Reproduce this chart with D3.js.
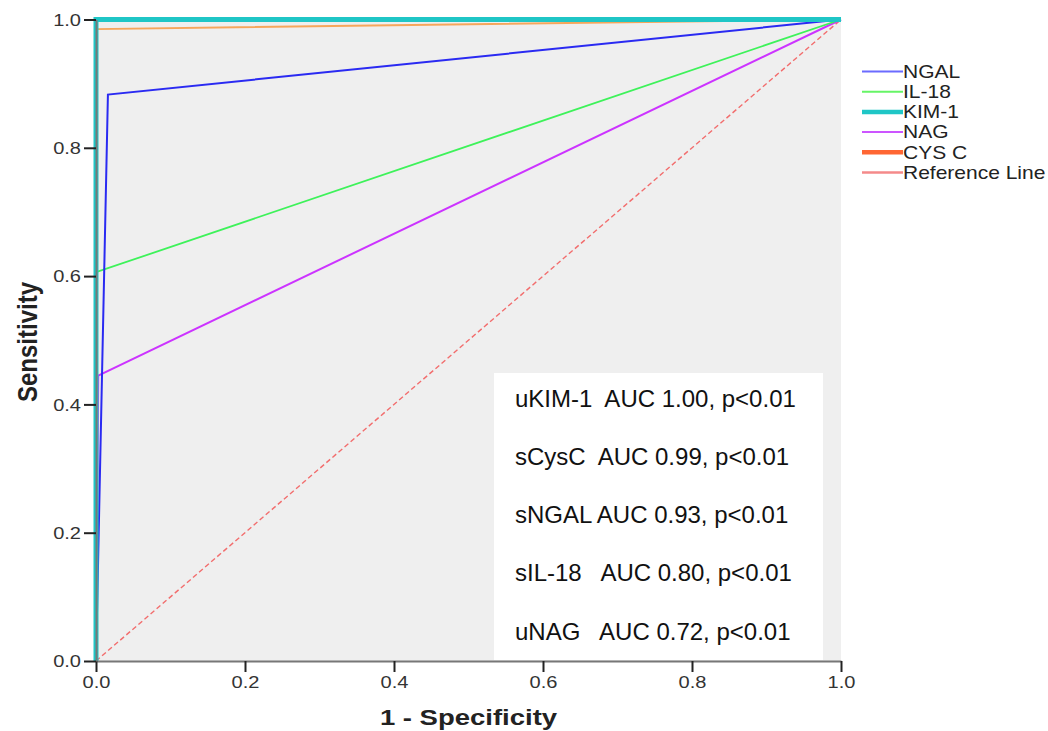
<!DOCTYPE html>
<html>
<head>
<meta charset="utf-8">
<script src="https://cdn.jsdelivr.net/npm/d3@7"></script>
<style>
  body { margin: 0; background: #fff; }
  svg { font-family: Arial, "Liberation Sans", sans-serif; }
</style>
</head>
<body>
<svg id="chart" width="1048" height="731"></svg>
<script>
// ROC curves: [1 - specificity, sensitivity]
const ngal = [[0, 0], [0.016, 0.883], [1, 1]];
const il18 = [[0, 0], [0, 0.606], [1, 1]];
const kim1 = [[0, 0], [0, 1], [1, 1]];
const nag = [[0, 0], [0.003, 0.445], [1, 1]];
const cysc = [[0, 0], [0, 0.985], [1, 1]];
const refLine = [[0, 0], [1, 1]];

const tickValues = [0, 0.2, 0.4, 0.6, 0.8, 1.0];
const aucLabels = [
  "uKIM-1  AUC 1.00, p<0.01",
  "sCysC  AUC 0.99, p<0.01",
  "sNGAL AUC 0.93, p<0.01",
  "sIL-18   AUC 0.80, p<0.01",
  "uNAG   AUC 0.72, p<0.01"
];

// 凡例の名前と線の見た目
const legendNames = ["NGAL", "IL-18", "KIM-1", "NAG", "CYS C", "Reference Line"];
const legendColors = ["#6b6bff", "#66f566", "#1fc6c6", "#cc55ff", "#ff6633", "#f48a8a"];
const legendWidths = [2, 2, 4.5, 2, 4.5, 2.5];

const svg = d3.select("#chart");
const plotLeft = 96, plotRight = 841, plotTop = 19.5, plotBottom = 661;
// 元画像は横に引き伸ばされている
const stretch = 1.18;

const x = d3.scaleLinear().domain([0, 1]).range([plotLeft, plotRight]);
const y = d3.scaleLinear().domain([0, 1]).range([plotBottom, plotTop]);

// 背景
svg.append("rect")
  .attr("x", plotLeft).attr("y", plotTop)
  .attr("width", plotRight - plotLeft).attr("height", plotBottom - plotTop)
  .attr("fill", "#efefef");

// AUCテキストの白い箱
svg.append("rect")
  .attr("x", 494).attr("y", 373)
  .attr("width", 329).attr("height", 287)
  .attr("fill", "#ffffff");

svg.append("g")
  .selectAll("text")
  .data(aucLabels)
  .join("text")
  .attr("x", 515)
  .attr("y", (d, i) => 406.5 + i * 58.3)
  .attr("font-size", 24)
  .attr("fill", "#111")
  .style("white-space", "pre")
  .attr("xml:space", "preserve")
  .text(d => d);

const line = d3.line().x(d => x(d[0])).y(d => y(d[1]));

// 参照線
svg.append("path")
  .attr("d", line(refLine))
  .attr("fill", "none")
  .attr("stroke", "#f26d6d")
  .attr("stroke-width", 1.4)
  .attr("stroke-dasharray", "5,3");

const curves = [
  { data: cysc, color: "#f5a65b", width: 2 },
  { data: nag, color: "#cc33ff", width: 2 },
  { data: il18, color: "#3ef25a", width: 1.8 },
  { data: ngal, color: "#2a2af2", width: 2 },
  { data: kim1, color: "#1fc6c6", width: 5 }
];

svg.append("g")
  .selectAll("path")
  .data(curves)
  .join("path")
  .attr("d", d => line(d.data))
  .attr("fill", "none")
  .attr("stroke", d => d.color)
  .attr("stroke-width", d => d.width)
  .attr("stroke-linejoin", "miter");

// 軸
const xAxis = svg.append("g")
  .attr("transform", `translate(0,${plotBottom})`)
  .call(d3.axisBottom(x).tickValues(tickValues).tickFormat(d3.format(".1f")).tickSizeInner(11).tickSizeOuter(0));
const yAxis = svg.append("g")
  .attr("transform", `translate(${plotLeft},0)`)
  .call(d3.axisLeft(y).tickValues(tickValues).tickFormat(d3.format(".1f")).tickSizeInner(12).tickSizeOuter(0));

[xAxis, yAxis].forEach(a => {
  a.select(".domain").attr("stroke", "#777").attr("stroke-width", 2);
  a.selectAll(".tick line").attr("stroke", "#222").attr("stroke-width", 2);
  a.selectAll(".tick text")
    .attr("font-size", 17)
    .attr("font-family", "Arial, 'Liberation Sans', sans-serif")
    .attr("fill", "#333")
    .attr("transform", `scale(${stretch},1)`);
});
xAxis.selectAll(".tick text").attr("y", 27).attr("dy", 0);
yAxis.selectAll(".tick text").attr("x", -15 / stretch).attr("dy", "0.34em");

// 軸タイトル
svg.append("text")
  .attr("transform", `translate(468.5,725) scale(1.25,1)`)
  .attr("text-anchor", "middle")
  .attr("font-size", 22)
  .attr("font-weight", "bold")
  .attr("fill", "#222")
  .text("1 - Specificity");

svg.append("text")
  .attr("transform", `translate(37,342) scale(${stretch},1) rotate(-90)`)
  .attr("text-anchor", "middle")
  .attr("font-size", 24)
  .attr("font-weight", "bold")
  .attr("fill", "#222")
  .text("Sensitivity");

// 凡例
const legend = svg.append("g")
  .selectAll("g")
  .data(legendNames)
  .join("g")
  .attr("transform", (d, i) => `translate(862,${71.5 + i * 20.2})`);

legend.append("line")
  .attr("x1", 0).attr("x2", 41)
  .attr("stroke", (d, i) => legendColors[i])
  .attr("stroke-width", (d, i) => legendWidths[i]);

legend.append("text")
  .attr("transform", "translate(41,0) scale(1.2,1)")
  .attr("dy", "0.36em")
  .attr("font-size", 17.5)
  .attr("fill", "#222")
  .text(d => d);
</script>
</body>
</html>
